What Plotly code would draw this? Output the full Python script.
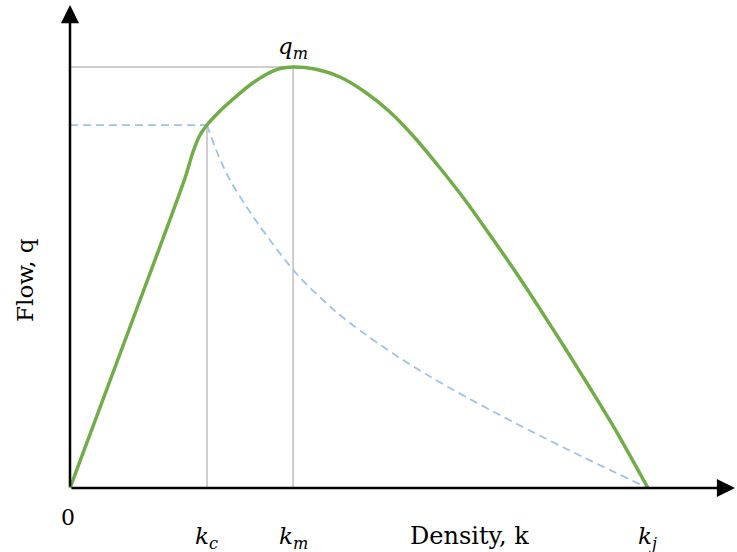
import plotly.graph_objects as go

# ---- data (density in % of jam density, flow in % of max flow) ----
green_density = [0, 10.38, 19.90, 21.28, 22.49, 23.70, 25.95, 28.03, 31.14, 34.08, 36.33, 38.58,
                 42.39, 46.71, 51.04, 55.36, 59.69, 64.01, 68.34, 72.66, 76.99, 81.31, 85.64,
                 89.97, 94.29, 100]
green_flow = [0, 38.24, 73.63, 79.81, 83.85, 86.22, 89.55, 92.16, 95.72, 98.34, 99.64, 100,
              99.52, 97.62, 94.06, 89.31, 83.14, 76.01, 68.41, 60.10, 51.54, 42.52, 33.25,
              23.75, 14.01, 0]

dashed_density = [23.70, 25.43, 27.68, 31.14, 34.08, 38.93, 44.12, 48.44, 57.09, 65.74, 77.34, 88.75, 100]
dashed_flow = [86.22, 79.81, 73.16, 65.56, 59.86, 51.31, 44.18, 39.19, 30.88, 23.75, 15.20, 7.36, 0]

k_c = 23.7
k_m = 38.6
k_j = 100
q_m = 100
q_c = 86.2

tick_labels = ["<i>k</i><sub><i>c</i></sub>", "<i>k</i><sub><i>m</i></sub>", "<i>k</i><sub><i>j</i></sub>"]
tick_positions = [k_c, k_m, k_j]

FONT = "DejaVu Serif"
GRAY = "#bfbfbf"
GREEN = "#70ad47"
BLUE = "#9dc3e6"

fig = go.Figure()

# gray reference lines
fig.add_trace(go.Scatter(x=[0, k_m, k_m], y=[q_m, q_m, 0], mode="lines",
                         line=dict(color=GRAY, width=1.5), hoverinfo="skip"))
fig.add_trace(go.Scatter(x=[k_c, k_c], y=[q_c, 0], mode="lines",
                         line=dict(color=GRAY, width=1.5), hoverinfo="skip"))

# blue dashed
fig.add_trace(go.Scatter(x=[0, k_c], y=[q_c, q_c], mode="lines",
                         line=dict(color=BLUE, width=1.8, dash="8px,5px"), hoverinfo="skip"))
fig.add_trace(go.Scatter(x=dashed_density, y=dashed_flow, mode="lines",
                         line=dict(color=BLUE, width=1.8, dash="8px,5px", shape="spline", smoothing=1.0),
                         hoverinfo="skip"))

# green flow-density curve
fig.add_trace(go.Scatter(x=green_density, y=green_flow, mode="lines",
                         line=dict(color=GREEN, width=3.5, shape="spline", smoothing=0.8),
                         hoverinfo="skip"))

annotations = []
# axes with arrows
annotations.append(dict(x=115.05, y=0, ax=0, ay=0, xref="x", yref="y", axref="x", ayref="y",
                        showarrow=True, arrowhead=2, arrowsize=1.45, arrowwidth=2.5,
                        arrowcolor="black", text=""))
annotations.append(dict(x=0, y=114.7, ax=0, ay=0, xref="x", yref="y", axref="x", ayref="y",
                        showarrow=True, arrowhead=2, arrowsize=1.45, arrowwidth=2.5,
                        arrowcolor="black", text=""))

# tick labels
for pos, lab in zip(tick_positions, tick_labels):
    annotations.append(dict(x=pos, y=-11.9, xref="x", yref="y", text=lab, showarrow=False,
                            font=dict(family=FONT, size=23, color="black"),
                            xanchor="center", yanchor="middle"))
annotations.append(dict(x=-0.35, y=-7.0, xref="x", yref="y", text="0", showarrow=False,
                        font=dict(family=FONT, size=22, color="black"),
                        xanchor="center", yanchor="middle"))
annotations.append(dict(x=k_m, y=104.5, xref="x", yref="y", text="<i>q</i><sub><i>m</i></sub>",
                        showarrow=False, font=dict(family=FONT, size=23, color="black"),
                        xanchor="center", yanchor="middle"))
annotations.append(dict(x=69.2, y=-11.4, xref="x", yref="y", text="Density, k", showarrow=False,
                        font=dict(family=FONT, size=24, color="black"),
                        xanchor="center", yanchor="middle"))
annotations.append(dict(x=-7.8, y=49.4, xref="x", yref="y", text="Flow, q", showarrow=False,
                        textangle=-90, font=dict(family=FONT, size=23, color="black"),
                        xanchor="center", yanchor="middle"))

fig.update_layout(
    width=737, height=552,
    margin=dict(l=0, r=0, t=0, b=0),
    paper_bgcolor="white", plot_bgcolor="white",
    showlegend=False,
    xaxis=dict(range=[-12.11, 115.40], visible=False, fixedrange=True),
    yaxis=dict(range=[-15.20, 115.91], visible=False, fixedrange=True),
    annotations=annotations,
)

fig.write_html("out.html", config={"displayModeBar": False},
               post_script="document.body.style.margin='0';document.body.style.overflow='hidden';")
